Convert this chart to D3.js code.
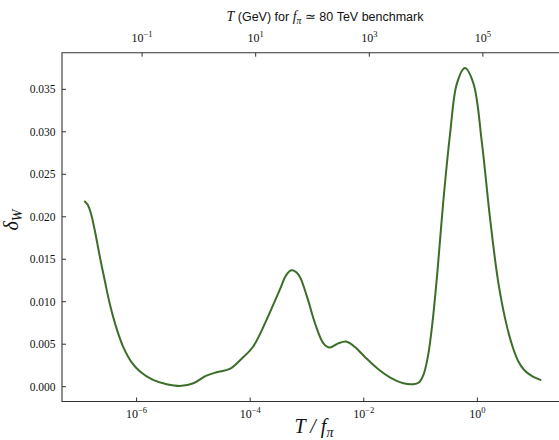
<!DOCTYPE html>
<html>
<head>
<meta charset="utf-8">
<script src="https://cdn.jsdelivr.net/npm/d3@7"></script>
<style>
  body { margin: 0; background: #fff; }
  text { fill: #111; }
</style>
</head>
<body>
<svg id="chart" width="559" height="440"></svg>
<script>
const log_t_over_f = [-6.91, -6.86, -6.80, -6.73, -6.65, -6.56, -6.47, -6.35, -6.23, -6.09, -5.94,
  -5.71, -5.47, -5.21, -5.00, -4.77, -4.59, -4.36, -4.15, -3.95, -3.71,
  -3.48, -3.36, -3.27, -3.15, -3.00, -2.86, -2.71, -2.60, -2.45, -2.30,
  -2.16, -1.98, -1.77, -1.54, -1.30, -1.13, -1.03, -0.95, -0.87, -0.79, -0.70,
  -0.60, -0.48, -0.36, -0.22, -0.07, 0.08, 0.22, 0.37, 0.52, 0.62, 0.72, 0.82,
  0.95, 1.11];
const delta_w = [0.0218, 0.0214, 0.0203, 0.0182, 0.0154, 0.0125, 0.0097, 0.0068, 0.0046, 0.0029, 0.0018,
  0.0008, 0.0003, 0.0001, 0.0004, 0.0013, 0.0017, 0.0021, 0.0033, 0.0047, 0.0079,
  0.0114, 0.0132, 0.0137, 0.0132, 0.0106, 0.0075, 0.0051, 0.0046, 0.0051, 0.0053,
  0.0047, 0.0035, 0.0022, 0.0011, 0.0004, 0.0003, 0.0005, 0.0014, 0.0036, 0.0076, 0.0138,
  0.0218, 0.0298, 0.0357, 0.0375, 0.0357, 0.0287, 0.0200, 0.0122, 0.0071, 0.0047, 0.0030, 0.0020,
  0.0013, 0.0008];

const bottom_ticks = [-6, -4, -2, 0];     // exponents of T/f_pi
const top_ticks = [-1, 1, 3, 5];          // exponents of T in GeV
const y_ticks = [0, 0.005, 0.010, 0.015, 0.020, 0.025, 0.030, 0.035];
const f_pi_gev = 8e4;                     // 80 TeV

const line_color = "#3b6e28";
const axis_color = "#333";
const serif = "'Liberation Serif', 'DejaVu Serif', serif";
const sans = "'Liberation Sans', Arial, sans-serif";

const frame = {left: 62, right: 559, top: 52.7, bottom: 401.5};

const svg = d3.select("#chart");

const x = d3.scaleLog()
  .domain([10 ** -7.313, 10 ** 1.437])
  .range([frame.left, frame.right]);

// same pixels, labelled in GeV
const x_gev = d3.scaleLog()
  .domain(x.domain().map(d => d * f_pi_gev))
  .range(x.range());

const y = d3.scaleLinear()
  .domain([-0.001742, 0.03931])
  .range([frame.bottom, frame.top]);

const points = log_t_over_f.map((lx, i) => ({t: 10 ** lx, d: delta_w[i]}));

// curve
svg.append("path")
  .datum(points)
  .attr("fill", "none")
  .attr("stroke", line_color)
  .attr("stroke-width", 2)
  .attr("stroke-linejoin", "round")
  .attr("stroke-linecap", "round")
  .attr("d", d3.line()
    .x(d => x(d.t))
    .y(d => y(d.d))
    .curve(d3.curveCatmullRom.alpha(0.5)));

// spines
const spines = svg.append("g")
  .attr("stroke", axis_color)
  .attr("stroke-width", 1.1)
  .attr("fill", "none");
spines.append("path")
  .attr("d", `M${frame.right},${frame.top}H${frame.left}V${frame.bottom}H${frame.right}`);

// inward ticks
const tick_len = 4;
const ticks = svg.append("g").attr("stroke", axis_color).attr("stroke-width", 1);

bottom_ticks.forEach(e => {
  const px = x(10 ** e);
  ticks.append("line").attr("x1", px).attr("x2", px)
    .attr("y1", frame.bottom).attr("y2", frame.bottom - tick_len);
});
top_ticks.forEach(e => {
  const px = x_gev(10 ** e);
  ticks.append("line").attr("x1", px).attr("x2", px)
    .attr("y1", frame.top).attr("y2", frame.top + tick_len);
});
y_ticks.forEach(v => {
  ticks.append("line").attr("x1", frame.left).attr("x2", frame.left + tick_len)
    .attr("y1", y(v)).attr("y2", y(v));
});

// power-of-ten label with superscript
function pow_label(g, px, py, e) {
  const t = g.append("text")
    .attr("x", px).attr("y", py)
    .attr("text-anchor", "middle")
    .style("font-family", serif)
    .style("font-size", "12px");
  t.append("tspan").text("10");
  t.append("tspan")
    .attr("dy", -5)
    .style("font-size", "8.5px")
    .text(e < 0 ? "\u2212" + Math.abs(e) : String(e));
}

const labels = svg.append("g");
bottom_ticks.forEach(e => pow_label(labels, x(10 ** e), 417.5, e));
top_ticks.forEach(e => pow_label(labels, x_gev(10 ** e), 42, e));

y_ticks.forEach(v => {
  labels.append("text")
    .attr("x", 55.5).attr("y", y(v) + 4)
    .attr("text-anchor", "end")
    .style("font-family", serif)
    .style("font-size", "11.5px")
    .text(d3.format(".3f")(v));
});

// x label
const xl = labels.append("text")
  .attr("x", 314).attr("y", 433)
  .attr("text-anchor", "middle")
  .style("font-family", serif)
  .style("font-style", "italic")
  .style("font-size", "20px");
xl.append("tspan").text("T / f");
xl.append("tspan").attr("dy", 4).style("font-size", "14px").text("\u03c0");

// y label
const yl = labels.append("text")
  .attr("transform", "translate(18,220) rotate(-90)")
  .attr("text-anchor", "middle")
  .style("font-family", serif)
  .style("font-style", "italic")
  .style("font-size", "20px");
yl.append("tspan").text("\u03b4");
yl.append("tspan").attr("dy", 4).style("font-size", "14px").text("W");

// top title
const tt = labels.append("text")
  .attr("x", 325).attr("y", 20.5)
  .attr("text-anchor", "middle")
  .style("font-family", sans)
  .style("font-size", "12.5px");
tt.append("tspan").style("font-family", serif).style("font-style", "italic")
  .style("font-size", "14px").text("T");
tt.append("tspan").text(" (GeV) for ");
tt.append("tspan").style("font-family", serif).style("font-style", "italic")
  .style("font-size", "14px").text("f");
tt.append("tspan").attr("dy", 3).style("font-family", serif).style("font-style", "italic")
  .style("font-size", "9.5px").text("\u03c0");
tt.append("tspan").attr("dy", -3).text(" \u2243 80 TeV benchmark");
</script>
</body>
</html>
